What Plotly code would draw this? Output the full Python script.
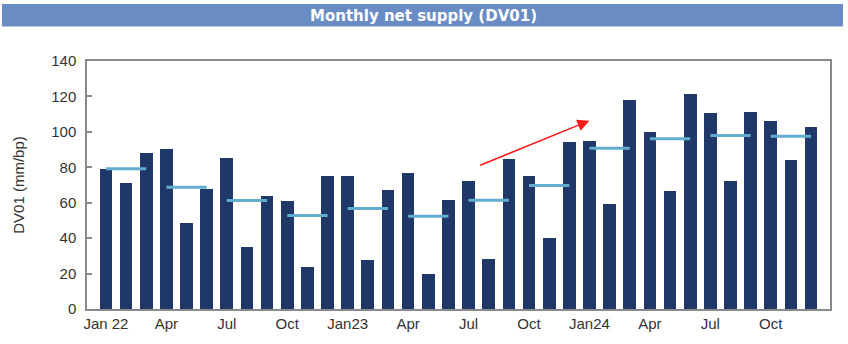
import plotly.graph_objects as go

months = ["Jan 22", "Feb 22", "Mar 22", "Apr 22", "May 22", "Jun 22", "Jul 22", "Aug 22", "Sep 22",
          "Oct 22", "Nov 22", "Dec 22", "Jan 23", "Feb 23", "Mar 23", "Apr 23", "May 23", "Jun 23",
          "Jul 23", "Aug 23", "Sep 23", "Oct 23", "Nov 23", "Dec 23", "Jan 24", "Feb 24", "Mar 24",
          "Apr 24", "May 24", "Jun 24", "Jul 24", "Aug 24", "Sep 24", "Oct 24", "Nov 24", "Dec 24"]
monthly_dv01 = [79, 71, 88, 90.5, 48.5, 68, 85.5, 35, 64, 61, 23.5, 75,
                75, 27.5, 67, 77, 20, 61.5, 72, 28, 84.5, 75, 40, 94,
                95, 59, 118, 100, 66.5, 121.5, 110.5, 72, 111, 106, 84, 102.5]
quarterly_avg = [79.2, 68.8, 61.2, 52.8, 56.7, 52.3, 61.4, 69.7, 90.7, 96.1, 97.9, 97.5]
tick_labels = ["Jan 22", "Apr", "Jul", "Oct", "Jan23", "Apr", "Jul", "Oct", "Jan24", "Apr", "Jul", "Oct"]
arrow_start = (18.5, 80.8)
arrow_end = (24.0, 106.3)

W, H = 848, 344
ML, MR, MT, MB = 87, 18, 61, 31
pw, ph = W - ML - MR, H - MT - MB

def px_x(p):
    return (p - ML) / pw

def px_y(p):
    return (H - MB - p) / ph

x_idx = list(range(len(months)))

fig = go.Figure()
fig.add_trace(go.Bar(x=x_idx, y=monthly_dv01, width=0.63,
                     marker=dict(color="#1f3868", line=dict(width=0)),
                     hovertext=months, showlegend=False))

qx, qy = [], []
for q, v in enumerate(quarterly_avg):
    qx += [q * 3, q * 3 + 2, None]
    qy += [v, v, None]
fig.add_trace(go.Scatter(x=qx, y=qy, mode="lines",
                         line=dict(color="#62acce", width=3), showlegend=False))

fig.add_annotation(x=arrow_end[0], y=arrow_end[1], ax=arrow_start[0], ay=arrow_start[1],
                   xref="x", yref="y", axref="x", ayref="y", text="", showarrow=True,
                   arrowhead=2, arrowsize=1.5, arrowwidth=1.6, arrowcolor="#ff1a1a")

fig.add_shape(type="rect", xref="paper", yref="paper",
              x0=px_x(2), x1=px_x(843), y0=px_y(26), y1=px_y(3),
              fillcolor="#6a8cc4", line=dict(width=0))
fig.add_annotation(xref="paper", yref="paper", x=px_x(423), y=px_y(15),
                   text="<b>Monthly net supply (DV01)</b>", showarrow=False,
                   font=dict(family="DejaVu Sans", size=15, color="white"),
                   xanchor="center", yanchor="middle")

fig.update_layout(
    width=W, height=H,
    margin=dict(l=ML, r=MR, t=MT, b=MB, pad=0),
    paper_bgcolor="white", plot_bgcolor="white",
    font=dict(family="Liberation Sans, Arial", size=15, color="#333333"),
    bargap=0,
    xaxis=dict(range=[-0.94, 35.94], tickmode="array",
               tickvals=[i * 3 for i in range(len(tick_labels))], ticktext=tick_labels,
               showline=True, linecolor="#8a8a8a", linewidth=1.5, mirror=True,
               showgrid=False, zeroline=False, ticks="", tickfont=dict(size=15)),
    yaxis=dict(range=[0, 140], dtick=20, showline=True, linecolor="#8a8a8a", linewidth=1.5,
               mirror=True, showgrid=False, zeroline=False, ticks="inside", ticklen=5,
               tickcolor="#8a8a8a", tickwidth=1.5, tickfont=dict(size=15),
               ticklabelstandoff=6,
               title=dict(text="DV01 (mm/bp)", font=dict(size=15), standoff=23)),
)

fig.write_html("out.html")
